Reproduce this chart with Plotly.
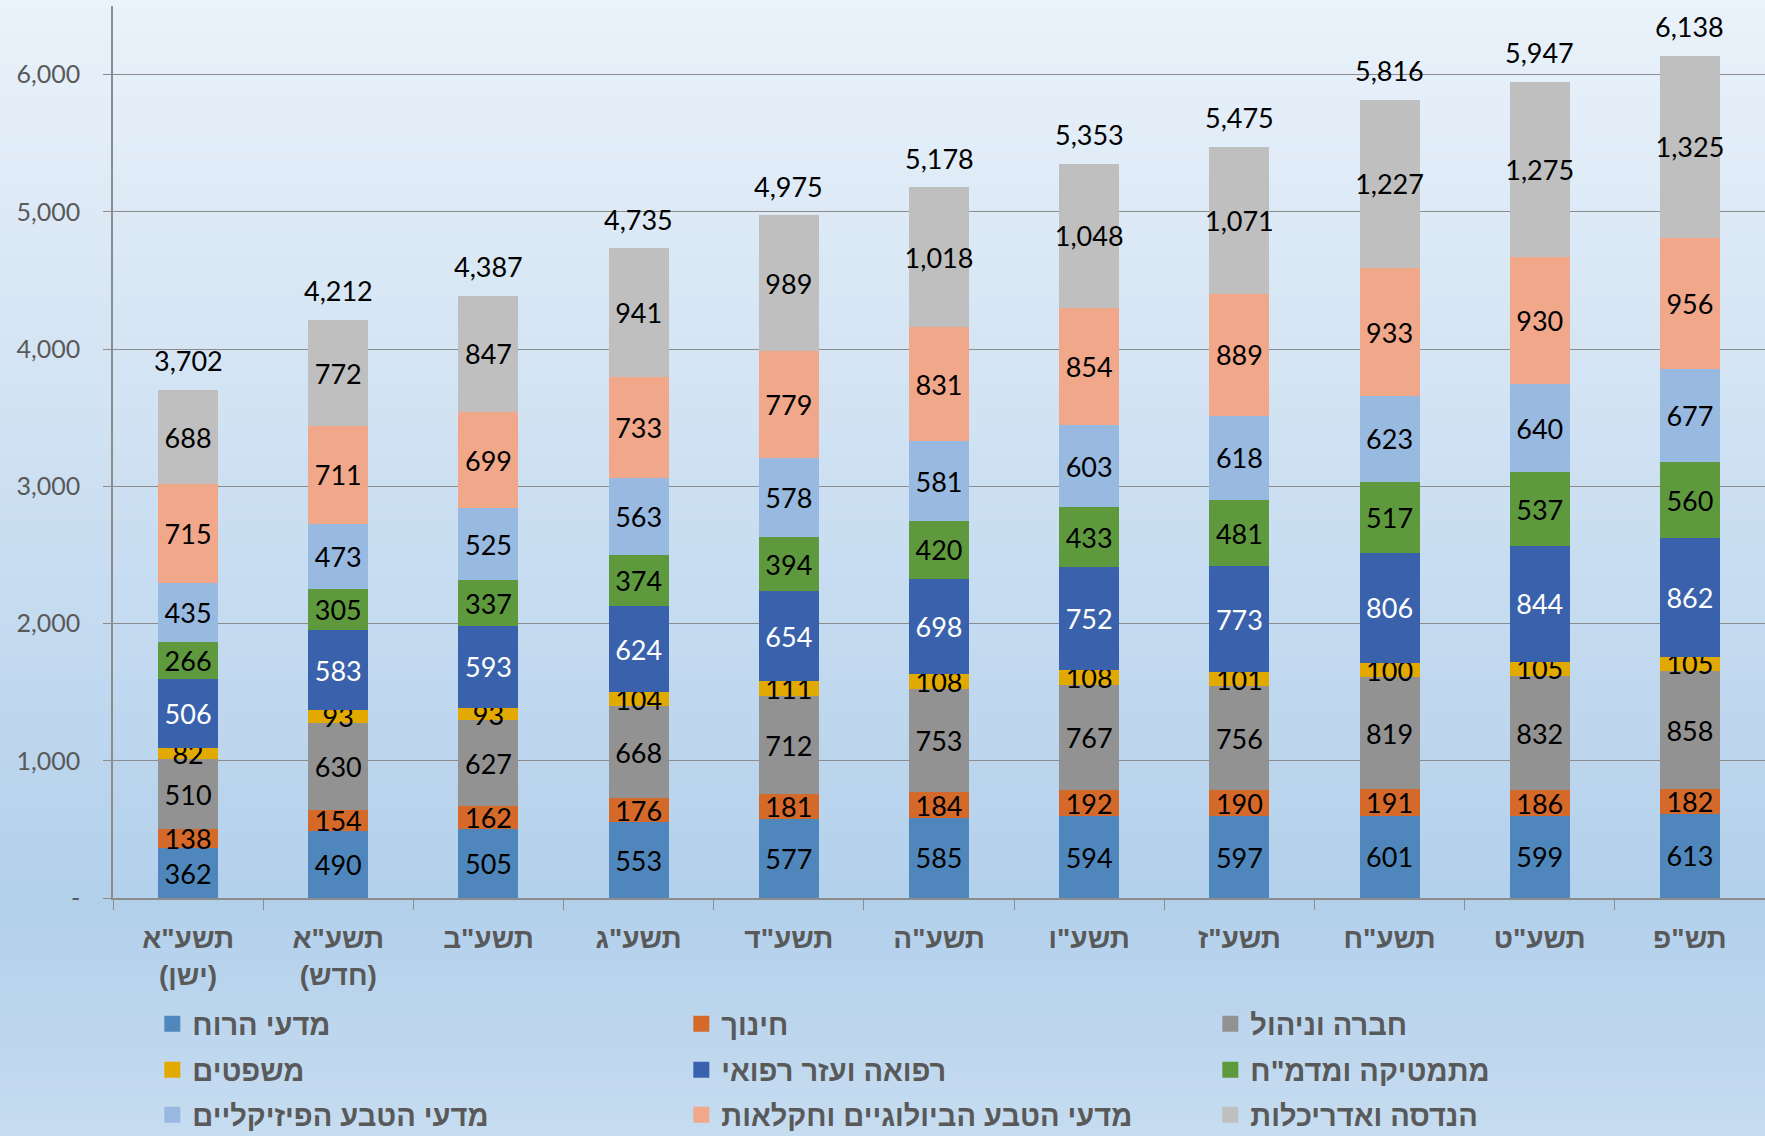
import plotly.graph_objects as go

categories = ['תשע"א<br>(ישן)', 'תשע"א<br>(חדש)', 'תשע"ב', 'תשע"ג', 'תשע"ד', 'תשע"ה',
              'תשע"ו', 'תשע"ז', 'תשע"ח', 'תשע"ט', 'תש"פ']

humanities = [362, 490, 505, 553, 577, 585, 594, 597, 601, 599, 613]
education = [138, 154, 162, 176, 181, 184, 192, 190, 191, 186, 182]
society = [510, 630, 627, 668, 712, 753, 767, 756, 819, 832, 858]
law = [82, 93, 93, 104, 111, 108, 108, 101, 100, 105, 105]
medicine = [506, 583, 593, 624, 654, 698, 752, 773, 806, 844, 862]
math_cs = [266, 305, 337, 374, 394, 420, 433, 481, 517, 537, 560]
physical = [435, 473, 525, 563, 578, 581, 603, 618, 623, 640, 677]
biology = [715, 711, 699, 733, 779, 831, 854, 889, 933, 930, 956]
engineering = [688, 772, 847, 941, 989, 1018, 1048, 1071, 1227, 1275, 1325]
totals = [3702, 4212, 4387, 4735, 4975, 5178, 5353, 5475, 5816, 5947, 6138]

series_names = ['מדעי הרוח', 'חינוך', 'חברה וניהול', 'משפטים', 'רפואה ועזר רפואי',
                'מתמטיקה ומדמ"ח', 'מדעי הטבע הפיזיקליים', 'מדעי הטבע הביולוגיים וחקלאות',
                'הנדסה ואדריכלות']
series_values = [humanities, education, society, law, medicine, math_cs, physical, biology, engineering]
series_colors = ['#4F87BD', '#D4692A', '#929292', '#E2A900', '#3A62AC', '#5E9A3D',
                 '#98B9E0', '#F0A78A', '#BFBFBF']
label_colors = ['black', 'black', 'black', 'black', 'white', 'black', 'black', 'black', 'black']

y_ticks = [0, 1000, 2000, 3000, 4000, 5000, 6000]
y_ticktext = ['-', '1,000', '2,000', '3,000', '4,000', '5,000', '6,000']

NUM_FONT = 'Lato, Open Sans, sans-serif'
HEB_FONT = 'Liberation Sans, Arial, DejaVu Sans, sans-serif'

fig = go.Figure()
for name, vals, col, lc in zip(series_names, series_values, series_colors, label_colors):
    fig.add_trace(go.Bar(
        x=categories, y=vals, name=name, showlegend=False,
        marker=dict(color=col, line=dict(width=0)),
        texttemplate='%{y:,}', textposition='inside', insidetextanchor='middle',
        textangle=0, constraintext='none', cliponaxis=False,
        textfont=dict(family=NUM_FONT, size=27, color=lc),
        hoverinfo='skip',
    ))

# legend entries (square swatches), three per row
legend_ids = ['legend', 'legend', 'legend', 'legend2', 'legend2', 'legend2',
              'legend3', 'legend3', 'legend3']
for name, col, lg in zip(series_names, series_colors, legend_ids):
    fig.add_trace(go.Scatter(
        x=[None], y=[None], mode='markers', name=name, legend=lg,
        marker=dict(symbol='square', size=16, color=col),
        hoverinfo='skip', showlegend=True,
    ))

annotations = []
for c, t in zip(categories, totals):
    annotations.append(dict(
        x=c, y=t, xref='x', yref='y', text=f'{t:,}', showarrow=False,
        yanchor='middle', yshift=29,
        font=dict(family=NUM_FONT, size=27, color='black'),
    ))

# background gradient (decorative)
W, H = 1765, 1136
L, R, T, B = 113, 0, 6, 238
pw, ph = W - L - R, H - T - B
stops = [(0.0, (234, 242, 250)), (0.80, (179, 208, 235)), (1.0, (198, 220, 240))]

def color_at(f):
    for (f0, c0), (f1, c1) in zip(stops[:-1], stops[1:]):
        if f0 <= f <= f1:
            t = (f - f0) / (f1 - f0)
            return 'rgb(%d,%d,%d)' % tuple(round(a + (b - a) * t) for a, b in zip(c0, c1))
    return 'rgb(%d,%d,%d)' % stops[-1][1]

shapes = []
N = 120
for i in range(N):
    y0px = H * i / N
    y1px = H * (i + 1) / N + 1
    shapes.append(dict(
        type='rect', xref='paper', yref='paper', layer='below',
        x0=(0 - L - 2) / pw, x1=(W - L + 2) / pw,
        y0=(H - B - y1px) / ph, y1=(H - B - y0px) / ph,
        fillcolor=color_at((i + 0.5) / N), line=dict(width=0),
    ))

legend_font = dict(family=HEB_FONT, size=29, color='#595959', weight='bold')

def legend_row(ycenter_px):
    return dict(
        orientation='h', xref='container', yref='container',
        x=0.0863, y=1 - ycenter_px / H, xanchor='left', yanchor='middle',
        entrywidth=484, entrywidthmode='pixels', traceorder='normal',
        font=legend_font, bgcolor='rgba(0,0,0,0)',
    )

fig.update_layout(
    width=W, height=H,
    barmode='stack', bargap=0.6,
    margin=dict(l=L, r=R, t=T, b=B),
    paper_bgcolor='rgb(205,224,242)', plot_bgcolor='rgba(0,0,0,0)',
    shapes=shapes, annotations=annotations,
    showlegend=True,
    legend=legend_row(1024),
    legend2=legend_row(1070),
    legend3=legend_row(1115),
    xaxis=dict(
        type='category', tickson='boundaries', ticks='outside', ticklen=10,
        tickcolor='#8C8C8C', showline=True, linecolor='#8C8C8C', linewidth=1.5,
        tickfont=dict(family=HEB_FONT, size=28, color='#595959', weight='bold'),
        ticklabelstandoff=15, showgrid=False,
    ),
    yaxis=dict(
        range=[0, 6500], tickvals=y_ticks, ticktext=y_ticktext,
        showgrid=True, gridcolor='#8C8C8C', gridwidth=1,
        showline=True, linecolor='#8C8C8C', linewidth=1.5,
        ticks='outside', ticklen=8, tickcolor='#8C8C8C',
        tickfont=dict(family=NUM_FONT, size=25, color='#595959'),
        ticklabelstandoff=18, zeroline=False,
    ),
    hovermode=False,
)

fig.write_html('out.html', config={'displayModeBar': False},
               post_script="document.body.style.margin='0px';document.body.style.overflow='hidden';")
